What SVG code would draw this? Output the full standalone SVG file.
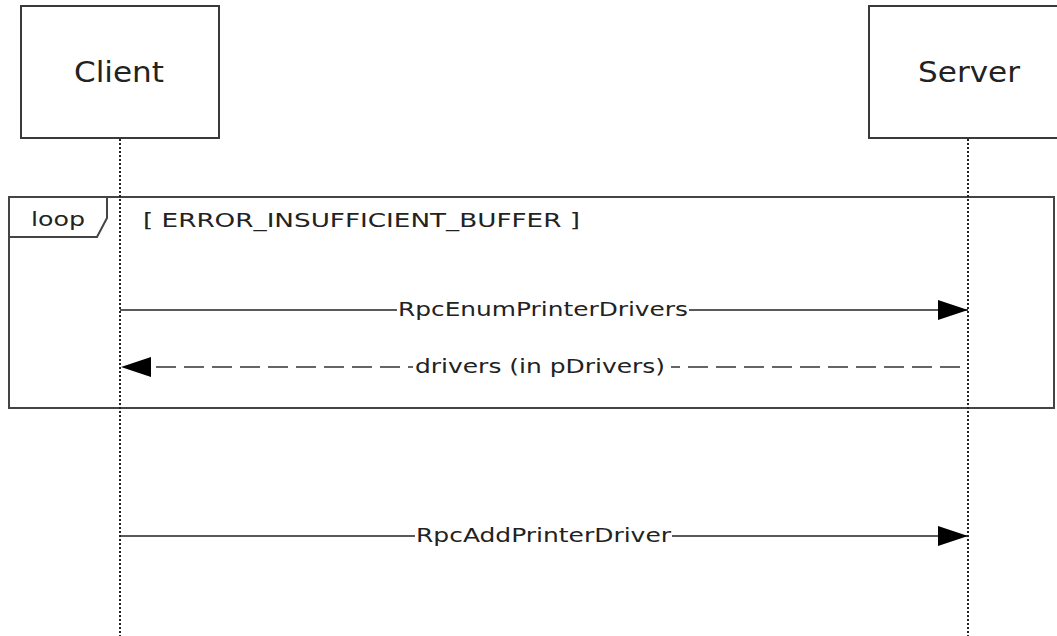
<svg xmlns="http://www.w3.org/2000/svg" width="1057" height="636" viewBox="0 0 1057 636">
<defs>
<marker id="ah" markerWidth="30" markerHeight="20" refX="30" refY="10" orient="auto" markerUnits="userSpaceOnUse">
<path d="M0,0 L30,10 L0,20 Z" fill="#000"/>
</marker>
<style>
text{font-family:"DejaVu Sans","Verdana",sans-serif;fill:#222}
.box{fill:#fff;stroke:#3a3a3a;stroke-width:2}
.life{stroke:#222;stroke-width:2;stroke-dasharray:2,2;fill:none}
.msg{stroke:#222;stroke-width:1.5;fill:none}
.ret{stroke:#333;stroke-width:1.5;fill:none;stroke-dasharray:20,8}
.lbl{font-size:20px}
.lblbg{fill:#fff}
.title{font-size:29px;text-anchor:middle}
</style>
</defs>
<rect width="1057" height="636" fill="#fff"/>
<g id="frame-loop">
<rect x="9" y="197" width="1045" height="211" fill="none" stroke="#444" stroke-width="2"/>
<path d="M9,237 L97,237 L107,218 L107,197" fill="none" stroke="#444" stroke-width="2"/>
<text class="lbl" x="31" y="226" textLength="54" lengthAdjust="spacingAndGlyphs">loop</text>
<text class="lbl" x="143" y="227" textLength="437" lengthAdjust="spacingAndGlyphs">[ ERROR_INSUFFICIENT_BUFFER ]</text>
</g>
<g id="node-client">
<rect class="box" x="21" y="6" width="198" height="132"/>
<text class="title" x="119" y="82" textLength="90" lengthAdjust="spacingAndGlyphs">Client</text>
</g>
<g id="node-server">
<rect class="box" x="869" y="6" width="200" height="132"/>
<text class="title" x="969" y="82" textLength="102" lengthAdjust="spacingAndGlyphs">Server</text>
</g>
<g id="lifelines">
<line class="life" x1="120" y1="139" x2="120" y2="636"/>
<line class="life" x1="968" y1="139" x2="968" y2="636"/>
</g>
<g id="connectors">
<line class="msg" x1="120" y1="310" x2="968" y2="310" marker-end="url(#ah)"/>
<rect class="lblbg" x="397" y="298" width="292" height="22"/>
<text class="lbl" x="398" y="316" textLength="290" lengthAdjust="spacingAndGlyphs">RpcEnumPrinterDrivers</text>
<line class="ret" x1="960" y1="367" x2="121" y2="367" marker-end="url(#ah)"/>
<rect class="lblbg" x="413" y="354" width="258" height="24"/>
<text class="lbl" x="415" y="373" textLength="250" lengthAdjust="spacingAndGlyphs">drivers (in pDrivers)</text>
<line class="msg" x1="120" y1="536" x2="968" y2="536" marker-end="url(#ah)"/>
<rect class="lblbg" x="415" y="524" width="257" height="22"/>
<text class="lbl" x="416" y="542" textLength="255" lengthAdjust="spacingAndGlyphs">RpcAddPrinterDriver</text>
</g>
</svg>
